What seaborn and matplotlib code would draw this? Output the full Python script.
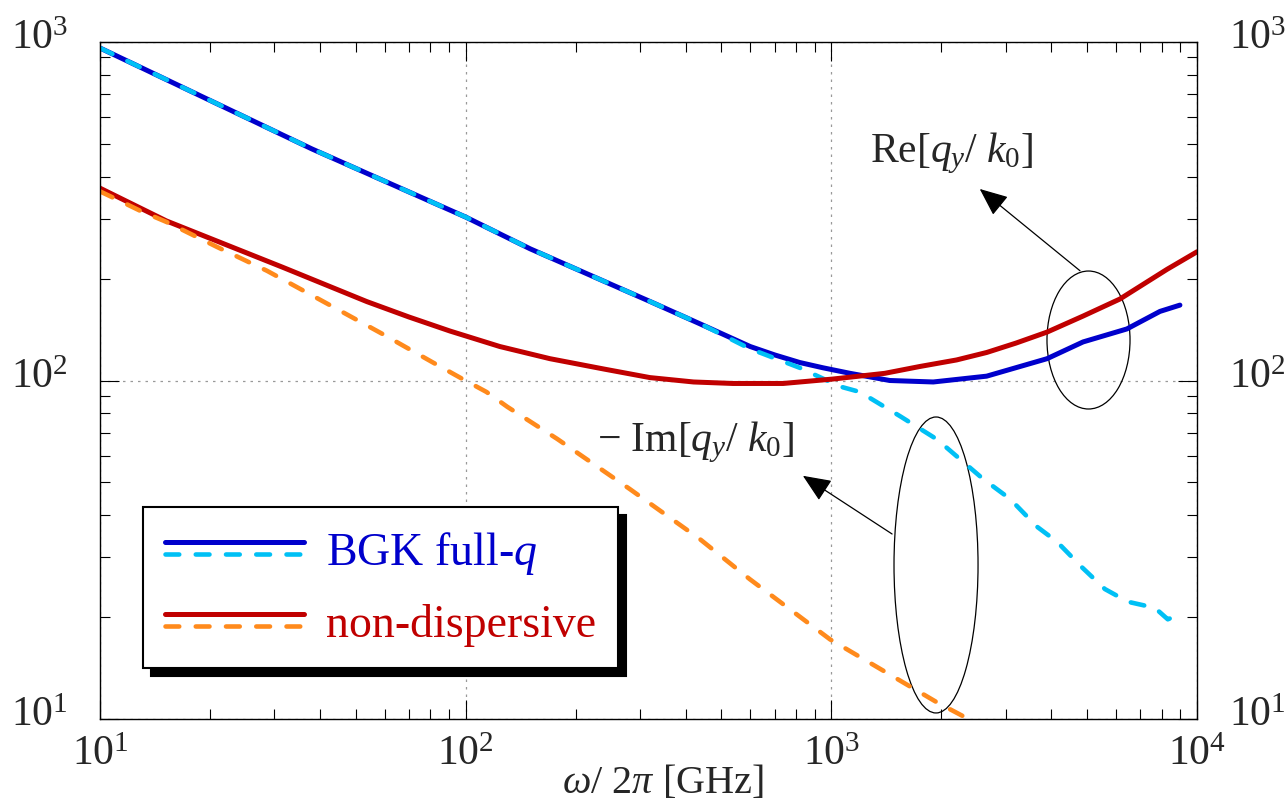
import matplotlib
matplotlib.use("Agg")
import matplotlib.pyplot as plt
import seaborn as sns
from matplotlib.legend_handler import HandlerBase
from matplotlib.lines import Line2D
from matplotlib.patches import Ellipse
from matplotlib.ticker import NullFormatter, LogLocator
from matplotlib.transforms import ScaledTranslation

# ---- data: normalised wavenumber vs frequency (GHz) ----
bgk_re_f = [10, 38, 100, 150, 320, 450, 600, 700, 820, 950, 1125, 1445, 1900, 2660, 3890,
            4880, 6430, 7920, 8980]
bgk_re_q = [960, 483, 304, 245, 171, 145, 126, 119, 113, 109, 105, 100, 99, 103, 116,
            130, 142, 160, 167]

bgk_im_f = [10, 38, 100, 150, 320, 450, 600, 820, 1056, 1197, 1540, 1945, 2600, 3080, 3650,
            4140, 4840, 5600, 6470, 7670, 8320, 8600]
bgk_im_q = [960, 483, 304, 245, 171, 145, 124, 109, 96, 92.5, 78.5, 67, 51.2, 44.7, 37,
            33.4, 28.1, 24.2, 22.2, 21.3, 19.7, 20.0]

nd_re_f = [10, 15.2, 21.3, 31.6, 53.7, 70, 90.6, 124, 170, 240, 319, 420, 538, 738, 1010,
           1400, 1746, 2200, 2660, 3200, 3890, 4880, 6150, 8280, 10000]
nd_re_q = [370, 296, 256, 216, 171, 154, 140, 126, 116, 108, 102, 99, 98, 98, 101,
           105, 110, 115, 121, 129, 139, 155, 174, 213, 240]

nd_im_f = [10, 11.1, 12.9, 15.2, 20.9, 28.6, 43.4, 59.4, 81.4, 96.5, 114, 130, 178, 281,
           437, 598, 991, 1945, 2290]
nd_im_q = [362, 343, 317, 294, 248, 211, 165, 137, 113, 102, 92.5, 83.6, 67.2, 47.8,
           34, 25.9, 17.2, 11.2, 10.2]

legend_labels = [r"BGK full-$q$", "non-dispersive"]

BLUE, CYAN, RED, ORANGE = "#0000CC", "#00C0F5", "#C00000", "#FF8A1C"

sns.set_theme(style="ticks")
plt.rcParams.update({
    "font.family": ["Liberation Serif", "DejaVu Serif"],
    "mathtext.fontset": "custom",
    "mathtext.rm": "Liberation Serif",
    "mathtext.it": "Liberation Serif:italic",
    "mathtext.bf": "Liberation Serif:bold",
    "font.size": 30,
})

fig = plt.figure(figsize=(12.88, 8.03), dpi=100)
ax = fig.add_axes([100 / 1288, 1 - 720 / 803, 1097 / 1288, 677 / 803])
ax.set_xscale("log")
ax.set_yscale("log")

sns.lineplot(x=bgk_re_f, y=bgk_re_q, ax=ax, color=BLUE, estimator=None)
sns.lineplot(x=bgk_im_f, y=bgk_im_q, ax=ax, color=CYAN, estimator=None)
sns.lineplot(x=nd_re_f, y=nd_re_q, ax=ax, color=RED, estimator=None)
sns.lineplot(x=nd_im_f, y=nd_im_q, ax=ax, color=ORANGE, estimator=None)
l_bre, l_bim, l_nre, l_nim = ax.lines[:4]

# solid lines for the real parts, dashed for the imaginary parts
for ln in (l_bre, l_nre):
    ln.set_linewidth(3.6)
    ln.set_linestyle("-")
    ln.set_solid_capstyle("round")
    ln.set_solid_joinstyle("round")
for ln in (l_bim, l_nim):
    ln.set_linewidth(3.3)
    ln.set_linestyle((0, (3.0, 3.6)))
    ln.set_dash_capstyle("round")
    ln.set_dash_joinstyle("round")

ax.set_xlim(10, 1e4)
ax.set_ylim(10, 1e3)

# ticks on all four sides, pointing inwards
ax.xaxis.set_minor_locator(LogLocator(base=10, subs=range(2, 10), numticks=20))
ax.yaxis.set_minor_locator(LogLocator(base=10, subs=range(2, 10), numticks=20))
ax.xaxis.set_minor_formatter(NullFormatter())
ax.yaxis.set_minor_formatter(NullFormatter())
ax.tick_params(which="both", direction="in", top=True, right=True, labelright=True,
               color="black", width=0.8, labelsize=30)
ax.tick_params(which="major", length=14)
ax.tick_params(which="minor", length=7)
ax.tick_params(axis="x", pad=11)
ax.tick_params(axis="y", pad=23)
for sp in ax.spines.values():
    sp.set_color("black")
    sp.set_linewidth(1.0)

# y tick labels sit slightly above their ticks
lift = ScaledTranslation(0, 6 / 72, fig.dpi_scale_trans)
for t in ax.yaxis.get_major_ticks():
    t.label1.set_transform(t.label1.get_transform() + lift)
    t.label2.set_transform(t.label2.get_transform() + lift)

ax.grid(True, which="major", linestyle=(0, (2, 4)), color="0.6", lw=0.9)
ax.set_axisbelow(True)

ax.set_xlabel(r"$\omega$/ 2$\pi$ [GHz]", fontsize=29)
ax.xaxis.set_label_coords(0.513, -0.093)
ax.xaxis.label.set_va("center")
ax.set_ylabel("")


class StackedLines(HandlerBase):
    """Legend entry showing the Re/Im pair as two stacked line samples."""

    def create_artists(self, legend, orig_handle, xdescent, ydescent, width, height,
                       fontsize, trans):
        upper, lower = orig_handle
        mid = height / 2 - ydescent
        out = []
        for src, dy in ((upper, 4.3), (lower, -4.3)):
            ln = Line2D([-xdescent, width - xdescent], [mid + dy, mid + dy])
            self.update_prop(ln, src, legend)
            ln.set_transform(trans)
            out.append(ln)
        return out


leg = ax.legend([(l_bre, l_bim), (l_nre, l_nim)], legend_labels,
                handler_map={tuple: StackedLines()},
                loc="upper left", bbox_to_anchor=(0.039, 0.313), borderaxespad=0,
                fontsize=33, handlelength=3.03, handletextpad=0.48, borderpad=0.48,
                labelspacing=0.59, fancybox=False, framealpha=1, edgecolor="black",
                labelcolor=[BLUE, RED],
                shadow={"ox": 6, "oy": -6, "facecolor": "black", "edgecolor": "black",
                        "alpha": 1})
leg.get_frame().set_linewidth(1.5)

arrow_style = dict(arrowstyle="-|>,head_length=0.7,head_width=0.3",
                   mutation_scale=25, lw=0.9, color="black", shrinkA=0, shrinkB=0)

# annotations: real part group
ax.text(2138, 445, r"Re$[q_y/\ k_0]$", ha="center", va="baseline", fontsize=30)
ax.annotate("", xy=(2546, 368), xytext=(4786, 211), arrowprops=arrow_style)
ax.add_patch(Ellipse((0.9011, 0.5598), 0.0757, 0.2038, transform=ax.transAxes,
                     fill=False, ec="black", lw=0.9))

# annotations: imaginary part group
ax.text(424, 62, r"$-$ Im$[q_y/\ k_0]$", ha="center", va="baseline", fontsize=30)
ax.annotate("", xy=(836, 52.3), xytext=(1466, 35.2), arrowprops=arrow_style)
ax.add_patch(Ellipse((0.7621, 0.2275), 0.0766, 0.4372, transform=ax.transAxes,
                     fill=False, ec="black", lw=0.9))

fig.savefig("out.png", dpi=100)
